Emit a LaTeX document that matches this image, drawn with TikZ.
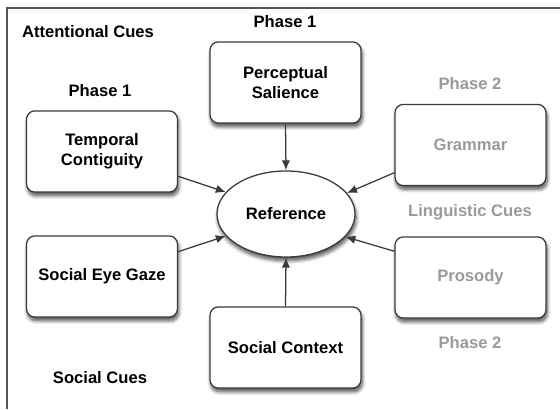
\documentclass[tikz,border=0pt]{standalone}
\usepackage{fontspec}
\setmainfont{Liberation Sans}
\usepackage{xcolor}
\usepackage{tikz}
\usetikzlibrary{arrows.meta,positioning,shapes.geometric,shadows.blur}

\definecolor{framegray}{HTML}{555555}
\definecolor{linegray}{HTML}{3A3A3A}
\definecolor{fadetext}{HTML}{9A9A9A}

\begin{document}
\begin{tikzpicture}[x=0.025cm,y=-0.025cm,
    cue/.style={draw=linegray,line width=0.9pt,rounded corners=6pt,fill=white,
      align=center,minimum width=3.775cm,minimum height=2.03cm,inner sep=2pt,
      font=\fontsize{11.8}{14.2}\selectfont\bfseries,
      blur shadow={shadow xshift=0.8pt,shadow yshift=-2.6pt,shadow blur steps=8,
        shadow blur radius=2.6pt,shadow opacity=70}},
    later/.style={cue,text=fadetext},
    hub/.style={cue,ellipse,rounded corners=0pt,minimum width=3.45cm,minimum height=2.15cm},
    tag/.style={font=\fontsize{11.8}{14.2}\selectfont\bfseries,inner sep=1pt},
    fadetag/.style={tag,text=fadetext},
    flow/.style={-{Latex[length=2.5mm,width=2.1mm]},draw=linegray,line width=0.9pt}
  ]
    \useasboundingbox (0,0) rectangle (560,409);
    % frame (top and left only)
    \draw[framegray,line width=1.5pt] (560,8) -- (7,8) -- (7,409);

    \node[hub] (ref) at (286,214) {Reference};
    \node[cue] (salience) at (285.5,82.5) {Perceptual\\Salience};
    \node[cue] (temporal) at (102,151.5) {Temporal\\Contiguity};
    \node[cue] (gaze) at (102,276.5) {Social Eye Gaze};
    \node[cue] (context) at (285.5,347.5) {Social Context};
    \node[later] (grammar) at (470.5,145) {Grammar};
    \node[later] (prosody) at (470.5,277.5) {Prosody};

    \node[tag] (attn) at (88,32) {Attentional Cues};
    \node[tag] (phasetop) at (285,22) {Phase 1};
    \node[tag] (phaseleft) at (100,91) {Phase 1};
    \node[tag] (socialcues) at (100,378) {Social Cues};
    \node[fadetag] (phasegram) at (470,84) {Phase 2};
    \node[fadetag] (ling) at (470,212) {Linguistic Cues};
    \node[fadetag] (phasepros) at (470,343) {Phase 2};

    \draw[flow] (salience.south) -- (ref.north);
    \draw[flow] (context.north) -- (ref.south);
    \draw[flow] (temporal.-18) -- (ref.160);
    \draw[flow] (gaze.18) -- (ref.200);
    \draw[flow] (grammar.200) -- (ref.19);
    \draw[flow] (prosody.161) -- (ref.-21);
  \end{tikzpicture}
\end{document}
